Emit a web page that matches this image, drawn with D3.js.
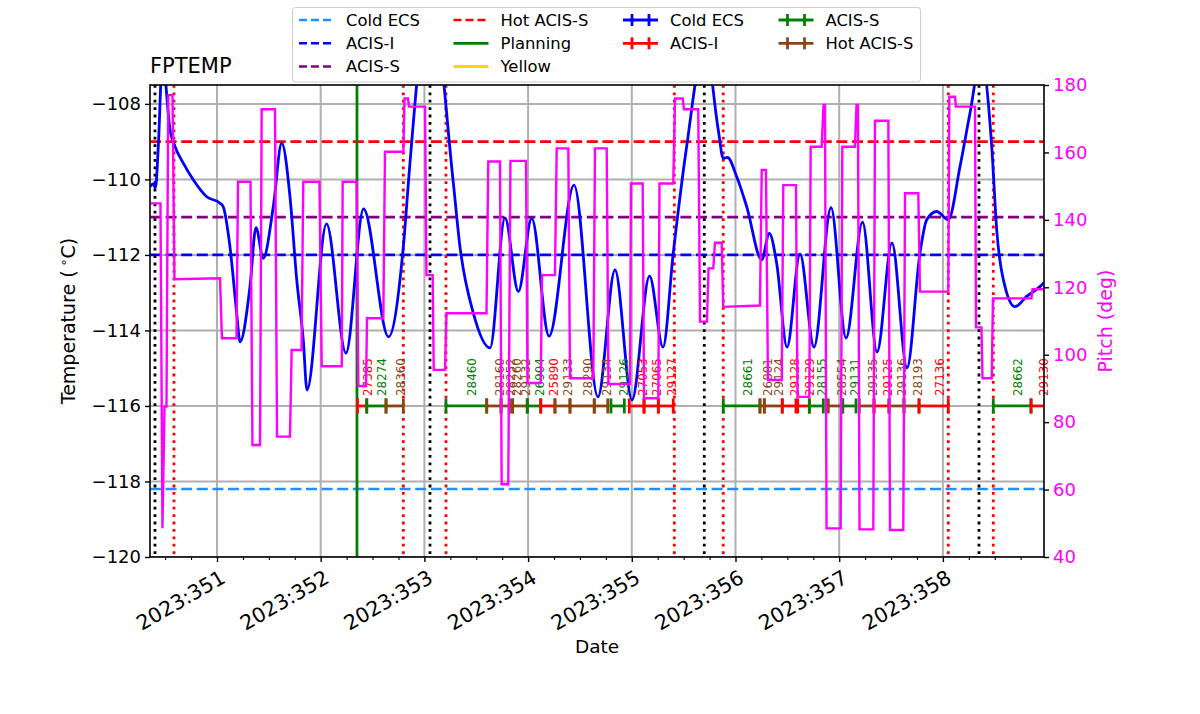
<!DOCTYPE html>
<html><head><meta charset="utf-8">
<script src="https://cdn.jsdelivr.net/npm/d3@7"></script>
<style>body{margin:0;background:#fff} text{font-family:"DejaVu Sans",sans-serif}</style>
</head><body><svg id="c" width="1200" height="714"></svg>
<script>
// ---------------- DATA ----------------
const dayTicks = [351, 352, 353, 354, 355, 356, 357, 358];
const dayTickLabels = ["2023:351","2023:352","2023:353","2023:354","2023:355","2023:356","2023:357","2023:358"];
const tempTicks = [-120, -118, -116, -114, -112, -110, -108];
const pitchTicks = [40, 60, 80, 100, 120, 140, 160, 180];

const tempTimes = [350.354,350.383,350.407,350.434,350.474,350.547,350.595,350.675,350.771,350.901,351.029,351.061,351.125,351.190,351.222,351.318,351.376,351.446,351.543,351.624,351.704,351.769,351.832,351.868,352.056,352.244,352.413,352.654,352.797,352.861,353.054,353.276,353.343,353.472,353.633,353.777,353.906,354.035,354.202,354.443,354.674,354.838,355.002,355.171,355.301,355.400,355.529,355.706,355.834,355.882,355.923,356.012,356.108,356.253,356.326,356.397,356.497,356.622,356.757,356.921,357.066,357.225,357.365,357.509,357.654,357.779,357.844,357.940,358.052,358.165,358.261,358.367,358.471,358.519,358.599,358.695,358.808,358.936,358.975];
const tempValues = [-110.19,-110.12,-110.22,-109.13,-106.8,-108.69,-109.13,-109.57,-110.01,-110.46,-110.63,-110.73,-111.78,-113.54,-114.3,-112.84,-111.28,-112.09,-110.72,-109.04,-110.46,-112.66,-114.25,-115.58,-111.18,-114.6,-110.78,-114.17,-111.78,-109.56,-105.0,-110.01,-111.78,-113.54,-114.46,-111.02,-112.97,-111.03,-114.15,-110.15,-115.76,-112.40,-115.84,-112.56,-114.44,-111.95,-109.13,-106.4,-108.69,-109.44,-109.42,-109.93,-110.72,-112.13,-111.43,-112.22,-114.44,-111.97,-114.44,-110.75,-114.2,-111.13,-114.57,-111.68,-114.99,-111.95,-111.07,-110.85,-111.07,-109.66,-108.25,-106.8,-109.13,-111.34,-112.84,-113.37,-113.1,-112.84,-112.74];

const pitchTimes = [350.354,350.455,350.474,350.494,350.513,350.530,350.571,350.590,351.029,351.048,351.188,351.203,351.323,351.342,351.415,351.431,351.559,351.579,351.704,351.720,351.815,351.832,351.988,352.010,352.203,352.212,352.347,352.363,352.437,352.447,352.604,352.620,352.797,352.808,352.842,352.852,353.006,353.020,353.080,353.090,353.199,353.213,353.599,353.616,353.729,353.745,353.809,353.830,353.980,353.994,354.122,354.134,354.259,354.276,354.388,354.404,354.629,354.645,354.758,354.775,354.983,354.992,355.105,355.118,355.256,355.267,355.400,355.417,355.491,355.503,355.641,355.658,355.725,355.740,355.786,355.802,355.867,355.882,356.236,356.253,356.294,356.313,356.446,356.461,356.583,356.598,356.712,356.725,356.831,356.849,356.863,356.878,357.014,357.030,357.152,357.167,357.181,357.196,357.329,357.345,357.474,357.490,357.618,357.635,357.763,357.779,358.052,358.062,358.117,358.126,358.310,358.319,358.372,358.382,358.471,358.483,358.854,358.864,358.975];
const pitchValues = [144.9,144.9,48.5,84.6,84.6,177.0,177.0,122.4,122.7,104.9,104.9,151.3,151.3,73.2,73.2,172.8,172.8,75.7,75.7,101.4,101.4,151.3,151.3,96.6,96.6,151.3,151.3,90.7,90.7,110.8,110.8,160.2,160.2,176.0,176.0,173.6,173.6,123.6,123.6,95.5,95.5,112.3,112.3,157.3,157.3,61.6,61.6,157.5,157.5,91.6,91.6,123.6,123.6,161.2,161.2,93.0,93.0,161.2,161.2,91.3,91.3,150.8,150.8,87.1,87.1,150.8,150.8,176.0,176.0,172.8,172.8,109.8,109.8,125.6,125.6,133.2,133.2,114.2,114.6,154.8,154.8,92.5,92.5,150.3,150.3,87.5,87.5,161.7,161.7,174.1,174.1,48.5,48.5,161.7,161.7,174.1,174.1,48.2,48.2,169.4,169.4,48.0,48.0,147.9,147.9,118.7,118.7,176.5,176.5,173.6,173.6,108.1,108.1,93.0,93.0,116.7,116.7,119.4,119.4];

const limitNames = ["Cold ECS", "ACIS-I", "ACIS-S", "Hot ACIS-S"];
const limitValues = [-118.2, -112.0, -111.0, -109.0];

const obsIds = ["27385","28274","28360","28460","28160","28252","28260","29132","26904","25890","29133","28290","29134","29126","27053","27065","29127","28661","26801","29124","29128","29129","28155","28554","29131","29135","29125","29136","28193","27136","28662","29130"];
const obsTypes = ["ACIS-I","ACIS-S","Hot ACIS-S","ACIS-S","Hot ACIS-S","Hot ACIS-S","Hot ACIS-S","Hot ACIS-S","ACIS-S","ACIS-I","Hot ACIS-S","Hot ACIS-S","Hot ACIS-S","ACIS-S","ACIS-I","ACIS-I","ACIS-I","ACIS-S","Hot ACIS-S","Hot ACIS-S","ACIS-I","ACIS-I","ACIS-S","Hot ACIS-S","ACIS-S","Hot ACIS-S","ACIS-I","Hot ACIS-S","Hot ACIS-S","ACIS-I","ACIS-S","ACIS-I"];
const obsStart = [352.355,352.444,352.630,353.208,353.601,353.739,353.819,353.851,353.992,354.122,354.259,354.404,354.638,354.799,354.976,355.118,355.256,355.882,356.236,356.278,356.451,356.600,356.712,356.895,357.034,357.194,357.336,357.480,357.625,357.770,358.486,358.850];
const obsStop  = [352.444,352.630,352.797,353.601,353.739,353.819,353.851,353.992,354.122,354.259,354.404,354.638,354.768,354.928,355.118,355.256,355.400,356.236,356.278,356.451,356.583,356.712,356.847,357.034,357.162,357.336,357.480,357.625,357.770,358.052,358.850,358.990];
const obsLevel = -116;

const blackLineTimes = [350.402, 353.054, 355.699, 358.348];
const redLineTimes = [350.585, 352.797, 353.208, 355.410, 355.882, 358.052, 358.486];
const planningTime = 352.350;

const legendDashLabels = ["Cold ECS", "ACIS-I", "ACIS-S", "Hot ACIS-S"];
const legendSolidLabels = ["Planning", "Yellow"];
const legendErrLabels = ["Cold ECS", "ACIS-I", "ACIS-S", "Hot ACIS-S"];

// ---------------- STYLE ----------------
const limitColors = {"Cold ECS":"#1e90ff","ACIS-I":"#0000ff","ACIS-S":"#800080","Hot ACIS-S":"#ff0000"};
const obsColors = {"Cold ECS":"#0000ff","ACIS-I":"#ff0000","ACIS-S":"#008000","Hot ACIS-S":"#8b4513"};
const solidColors = {"Planning":"#008000","Yellow":"#ffd700"};
const FONT = '"DejaVu Sans", sans-serif';

const L = 150, R = 1044, T = 85, B = 557;
const svg = d3.select("#c");
const x = d3.scaleLinear().domain([350.354, 358.975]).range([L, R]);
const yT = d3.scaleLinear().domain([-120, -107.5]).range([B, T]);
const yP = d3.scaleLinear().domain([40, 180]).range([B, T]);

svg.append("defs").append("clipPath").attr("id", "clip")
  .append("rect").attr("x", L).attr("y", T).attr("width", R - L).attr("height", B - T);
const plot = svg.append("g").attr("clip-path", "url(#clip)");

// grid
plot.append("g").selectAll("line").data(dayTicks).join("line")
  .attr("x1", d => x(d)).attr("x2", d => x(d)).attr("y1", T).attr("y2", B)
  .attr("stroke", "#b0b0b0").attr("stroke-width", 2);
plot.append("g").selectAll("line").data(tempTicks).join("line")
  .attr("x1", L).attr("x2", R).attr("y1", d => yT(d)).attr("y2", d => yT(d))
  .attr("stroke", "#b0b0b0").attr("stroke-width", 2);

// limit lines
plot.append("g").selectAll("line").data(limitValues).join("line")
  .attr("x1", L).attr("x2", R).attr("y1", d => yT(d)).attr("y2", d => yT(d))
  .attr("stroke", (d, i) => limitColors[limitNames[i]]).attr("stroke-width", 2.6)
  .attr("stroke-dasharray", "11,4.6");

// vertical dotted lines
plot.append("g").selectAll("line").data(blackLineTimes).join("line")
  .attr("x1", d => x(d)).attr("x2", d => x(d)).attr("y1", T).attr("y2", B)
  .attr("stroke", "#000").attr("stroke-width", 2.8).attr("stroke-dasharray", "2.8,4.6");
plot.append("g").selectAll("line").data(redLineTimes).join("line")
  .attr("x1", d => x(d)).attr("x2", d => x(d)).attr("y1", T).attr("y2", B)
  .attr("stroke", "#ff0000").attr("stroke-width", 2.8).attr("stroke-dasharray", "2.8,4.6");
plot.append("line").attr("x1", x(planningTime)).attr("x2", x(planningTime)).attr("y1", T).attr("y2", B)
  .attr("stroke", solidColors["Planning"]).attr("stroke-width", 2.8);

// temperature
const tempData = tempTimes.map((t, i) => [t, tempValues[i]]);
plot.append("path").datum(tempData)
  .attr("d", d3.line().x(d => x(d[0])).y(d => yT(d[1])).curve(d3.curveMonotoneX))
  .attr("fill", "none").attr("stroke", "#0000ff").attr("stroke-width", 2.8);

// observation segments
const obsG = plot.append("g");
const yo = yT(obsLevel);
obsIds.forEach((id, i) => {
  const c = obsColors[obsTypes[i]];
  const x0 = x(obsStart[i]), x1 = x(obsStop[i]);
  obsG.append("line").attr("x1", x0).attr("x2", x1).attr("y1", yo).attr("y2", yo)
    .attr("stroke", c).attr("stroke-width", 2.8);
  [x0, x1].forEach(xx => obsG.append("line").attr("x1", xx).attr("x2", xx)
    .attr("y1", yo - 7.5).attr("y2", yo + 7.5).attr("stroke", c).attr("stroke-width", 2.8));
});
const labG = svg.append("g");
obsIds.forEach((id, i) => {
  const c = obsColors[obsTypes[i]];
  const xm = x((obsStart[i] + obsStop[i]) / 2) + 10;
  labG.append("text").attr("transform", `translate(${xm},${yo - 10}) rotate(-90)`)
    .attr("font-size", 11.9).attr("fill", c).attr("text-anchor", "start").text(id);
});

// pitch
const pitchData = pitchTimes.map((t, i) => [t, pitchValues[i]]);
svg.append("path").datum(pitchData).attr("clip-path", "url(#clip)")
  .attr("d", d3.line().x(d => x(d[0])).y(d => yP(d[1])))
  .attr("fill", "none").attr("stroke", "#ff00ff").attr("stroke-width", 2.4);

// axes
function styleAxis(g) { g.select(".domain").remove(); g.selectAll("text").attr("font-family", FONT); }
const axL = svg.append("g").attr("transform", `translate(${L},0)`)
  .call(d3.axisLeft(yT).tickValues(tempTicks).tickSize(5).tickPadding(4)).call(styleAxis);
axL.selectAll("text").attr("font-size", 18);
axL.selectAll("line").attr("stroke-width", 1.4);
const axR = svg.append("g").attr("transform", `translate(${R},0)`)
  .call(d3.axisRight(yP).tickValues(pitchTicks).tickSize(5).tickPadding(4)).call(styleAxis);
axR.selectAll("text").attr("font-size", 18).attr("fill", "#ff00ff");
axR.selectAll("line").attr("stroke-width", 1.4);
const minorTicks = d3.range(350.5, 359, 0.25).filter(d => !dayTicks.includes(d));
svg.append("g").attr("transform", `translate(0,${B})`)
  .call(d3.axisBottom(x).tickValues(minorTicks).tickSize(3).tickFormat("")).call(styleAxis)
  .selectAll("line").attr("stroke-width", 1.1);
const axB = svg.append("g").attr("transform", `translate(0,${B})`)
  .call(d3.axisBottom(x).tickValues(dayTicks).tickSize(5).tickFormat((d, i) => dayTickLabels[i])).call(styleAxis);
axB.selectAll("line").attr("stroke-width", 1.4);
axB.selectAll("text").attr("font-size", 20.5).attr("x", 0).attr("y", 0).attr("dy", "0.72em")
  .attr("text-anchor", "end").attr("transform", "translate(2,12) rotate(-30)");

// spines
svg.append("rect").attr("x", L).attr("y", T).attr("width", R - L).attr("height", B - T)
  .attr("fill", "none").attr("stroke", "#000").attr("stroke-width", 1.6);

// labels
svg.append("text").attr("x", L).attr("y", 73).attr("font-size", 21).text("FPTEMP");
svg.append("text").attr("x", (L + R) / 2).attr("y", 653).attr("text-anchor", "middle").attr("font-size", 18.5).text("Date");
const yl = svg.append("text").attr("transform", `translate(75,${(T + B) / 2}) rotate(-90)`)
  .attr("text-anchor", "middle").attr("font-size", 19);
yl.append("tspan").text("Temperature (\u2009");
yl.append("tspan").attr("font-size", 13).attr("dy", -7).text("∘");
yl.append("tspan").attr("dy", 7).text("C)");
svg.append("text").attr("transform", `translate(1112,${(T + B) / 2}) rotate(-90)`)
  .attr("text-anchor", "middle").attr("font-size", 19).attr("fill", "#ff00ff").text("Pitch (deg)");

// legend
const lg = svg.append("g");
lg.append("rect").attr("x", 292.5).attr("y", 7.5).attr("width", 628).attr("height", 74.5).attr("rx", 3)
  .attr("fill", "#fff").attr("stroke", "#cccccc").attr("stroke-width", 1);
const colX = [299, 453.5, 623, 778.5], rowY = [20, 43.3, 66.5], HL = 35;
const entries = [];
legendDashLabels.forEach(n => entries.push({kind: "dash", label: n, color: limitColors[n]}));
legendSolidLabels.forEach(n => entries.push({kind: "solid", label: n, color: solidColors[n]}));
legendErrLabels.forEach(n => entries.push({kind: "err", label: n, color: obsColors[n]}));
const slots = [[0,0],[0,1],[0,2],[1,0],[1,1],[1,2],[2,0],[2,1],[3,0],[3,1]];
entries.forEach((e, i) => {
  const [c, r] = slots[i];
  const x0 = colX[c], yy = rowY[r];
  const ln = lg.append("line").attr("x1", x0).attr("x2", x0 + HL).attr("y1", yy).attr("y2", yy)
    .attr("stroke", e.color).attr("stroke-width", e.kind === "dash" ? 2.4 : 2.8);
  if (e.kind === "dash") ln.attr("stroke-dasharray", "8,4");
  if (e.kind === "err") {
    [x0 + 9, x0 + HL - 9].forEach(xx => lg.append("line").attr("x1", xx).attr("x2", xx)
      .attr("y1", yy - 6).attr("y2", yy + 6).attr("stroke", e.color).attr("stroke-width", 2.8));
  }
  lg.append("text").attr("x", x0 + 47).attr("y", yy).attr("dy", "0.36em").attr("font-size", 16.4).text(e.label);
});
</script></body></html>
